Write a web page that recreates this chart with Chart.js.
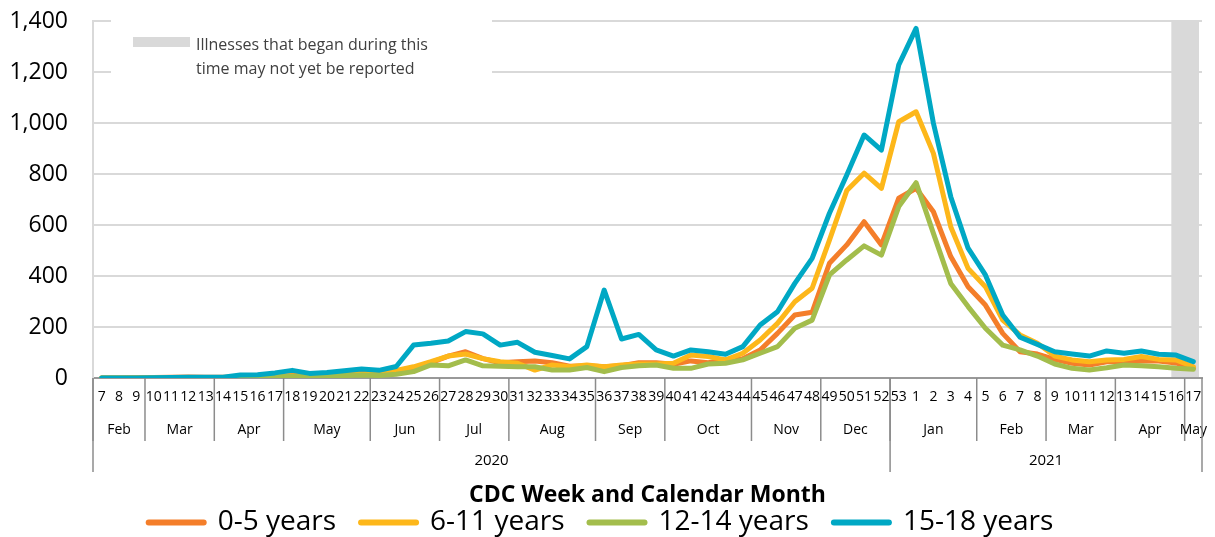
<!DOCTYPE html>
<html>
<head>
<meta charset="utf-8">
<script src="https://cdn.jsdelivr.net/npm/chart.js@4.4.1/dist/chart.umd.min.js"></script>
<style>
  html, body { margin: 0; padding: 0; background: #fff; }
</style>
</head>
<body>
<canvas id="chart" width="1215" height="537"></canvas>
<script>
// CDC weeks, 2020 wk 7 .. 2021 wk 17
const weeks = [
  '7','8','9','10','11','12','13','14','15','16','17','18','19','20','21','22','23','24',
  '25','26','27','28','29','30','31','32','33','34','35','36','37','38','39','40','41','42',
  '43','44','45','46','47','48','49','50','51','52','53',
  '1','2','3','4','5','6','7','8','9','10','11','12','13','14','15','16','17'
];

const monthLabels = ['Feb','Mar','Apr','May','Jun','Jul','Aug','Sep','Oct','Nov','Dec','Jan','Feb','Mar','Apr','May'];
const monthSpans = [3, 4, 4, 5, 4, 4, 5, 4, 5, 4, 4, 5, 4, 4, 4, 1];
const yearLabels = ['2020', '2021'];
const yearSpans = [46, 18];

// weeks whose illnesses may not be reported yet (index into weeks)
const pendingFrom = 62;
const noteLines = ['Illnesses that began during this', 'time may not yet be reported'];

const age0to5 = [
  0, 0, 1, 2, 3, 4, 3, 3, 4, 5, 6, 10, 9, 12, 15, 18, 20, 28,
  38, 60, 86, 103, 76, 60, 64, 67, 60, 46, 48, 44, 48, 60, 60, 54, 67, 60, 71, 76, 110, 175, 247, 258,
  450, 522, 613, 522, 705,
  744, 652, 476, 358, 286, 175, 103, 94, 73, 58, 51, 64, 64, 67, 67, 59, 38
];
const age6to11 = [
  0, 0, 0, 1, 1, 2, 2, 2, 3, 4, 5, 8, 7, 10, 12, 15, 18, 30,
  44, 64, 86, 94, 76, 64, 58, 31, 51, 44, 51, 44, 51, 55, 55, 58, 90, 84, 71, 97, 149, 214, 299, 352,
  541, 735, 803, 744, 1005,
  1044, 881, 593, 430, 358, 227, 169, 136, 86, 71, 64, 71, 73, 84, 73, 71, 44
];
const age12to14 = [
  0, 0, 0, 0, 0, 1, 1, 1, 2, 3, 4, 7, 5, 8, 10, 12, 10, 15,
  25, 51, 48, 71, 48, 46, 44, 44, 31, 31, 41, 25, 41, 48, 51, 38, 38, 55, 58, 71, 97, 123, 195, 227,
  404, 463, 518, 482, 672,
  766, 567, 371, 280, 195, 129, 110, 86, 55, 38, 31, 40, 51, 48, 44, 38, 34
];
const age15to18 = [
  0, 0, 0, 1, 2, 3, 3, 3, 12, 13, 20, 30, 18, 22, 28, 35, 30, 45,
  129, 136, 145, 182, 173, 129, 140, 101, 88, 75, 123, 345, 153, 171, 110, 86, 110, 103, 93, 123, 208, 260, 371, 469,
  646, 796, 953, 894, 1228,
  1371, 999, 711, 509, 404, 247, 160, 132, 103, 94, 86, 106, 97, 106, 93, 90, 64
];

const FONT = 'Open Sans';

function series(label, data, color, order) {
  return {
    label, data, order,
    borderColor: color,
    backgroundColor: color,
    borderWidth: 5,
    borderJoinStyle: 'round',
    borderCapStyle: 'round',
    pointRadius: 0,
    tension: 0,
    fill: false
  };
}

// grey "not yet reported" band, note box, month / year rows
const extrasPlugin = {
  id: 'cdcExtras',
  beforeDatasetsDraw(chart) {
    const { ctx, chartArea: a, scales: { x } } = chart;
    const step = x.getPixelForValue(1) - x.getPixelForValue(0);
    ctx.save();
    ctx.fillStyle = '#d9d9d9';
    const bx = x.getPixelForValue(pendingFrom) - step * 0.27;
    ctx.fillRect(bx, a.top, a.right - 3 - bx, a.bottom - a.top - 1);

    // note box (hides the grid behind it)
    ctx.fillStyle = '#fff';
    ctx.fillRect(a.left + 18, a.top - 6, 381, 62);
    ctx.fillStyle = '#d9d9d9';
    ctx.fillRect(a.left + 40, a.top + 16, 57, 10);
    ctx.fillStyle = '#404040';
    ctx.font = '16px "' + FONT + '"';
    ctx.textBaseline = 'middle';
    ctx.textAlign = 'left';
    ctx.fillText(noteLines[0], a.left + 103, a.top + 24);
    ctx.fillText(noteLines[1], a.left + 103, a.top + 48);
    ctx.restore();
  },
  afterDraw(chart) {
    const { ctx, chartArea: a, scales: { x } } = chart;
    const step = x.getPixelForValue(1) - x.getPixelForValue(0);
    const edge = i => x.getPixelForValue(i) - step / 2;
    const vline = (px, len) => {
      ctx.beginPath();
      ctx.moveTo(px, a.bottom);
      ctx.lineTo(px, a.bottom + len);
      ctx.stroke();
    };
    ctx.save();
    ctx.strokeStyle = '#8c8c8c';
    ctx.lineWidth = 1.5;
    ctx.fillStyle = '#000';
    ctx.textAlign = 'center';
    ctx.textBaseline = 'middle';

    ctx.font = '14px "' + FONT + '"';
    let i = 0;
    monthLabels.forEach((m, k) => {
      const l = edge(i), r = edge(i + monthSpans[k]);
      vline(l, 63);
      ctx.fillText(m, (l + r) / 2, a.bottom + 52);
      i += monthSpans[k];
    });

    ctx.font = '15px "' + FONT + '"';
    i = 0;
    yearLabels.forEach((y, k) => {
      const l = edge(i), r = edge(i + yearSpans[k]);
      vline(l, 94);
      ctx.fillText(y, (l + r) / 2, a.bottom + 83);
      i += yearSpans[k];
    });
    vline(edge(i), 94);
    ctx.restore();
  }
};

new Chart(document.getElementById('chart'), {
  type: 'line',
  data: {
    labels: weeks,
    datasets: [
      series('0-5 years', age0to5, '#F47E2A', 3),
      series('6-11 years', age6to11, '#FDB71A', 2),
      series('12-14 years', age12to14, '#A3BD4C', 1),
      series('15-18 years', age15to18, '#00A8C4', 0)
    ]
  },
  options: {
    responsive: false,
    animation: false,
    events: [],
    layout: { padding: { top: 21, right: 13, left: 0, bottom: 0 } },
    plugins: {
      tooltip: { enabled: false },
      legend: {
        position: 'bottom',
        maxHeight: 53.5,
        labels: {
          usePointStyle: true,
          pointStyle: 'line',
          pointStyleWidth: 55,
          padding: 25,
          color: '#000',
          font: { family: FONT, size: 28 },
          sort: (a, b) => a.datasetIndex - b.datasetIndex,
          generateLabels(chart) {
            return Chart.defaults.plugins.legend.labels.generateLabels(chart)
              .map(l => ({ ...l, lineCap: 'round', lineWidth: 6 }));
          }
        }
      }
    },
    scales: {
      x: {
        offset: true,
        ticks: {
          autoSkip: false, maxRotation: 0, minRotation: 0, padding: 11,
          color: '#000', font: { family: FONT, size: 14 }
        },
        grid: { display: false, drawTicks: false, offset: true },
        border: { color: '#999', width: 2 },
        title: {
          display: true,
          text: 'CDC Week and Calendar Month',
          color: '#000',
          font: { family: FONT, size: 23, weight: 'bold' },
          padding: { top: 0, bottom: -26 }
        },
        afterFit(s) { s.height = 105.5; }
      },
      y: {
        min: 0, max: 1400,
        ticks: {
          stepSize: 200, padding: 0, color: '#000',
          font: { family: FONT, size: 23 },
          callback: v => v.toLocaleString('en-US')
        },
        grid: { color: '#d9d9d9', lineWidth: 2, drawTicks: true, tickLength: 25, tickColor: 'rgba(0,0,0,0)' },
        border: { color: '#d9d9d9', width: 2 },
        afterFit(s) { s.width = 93; }
      }
    }
  },
  plugins: [extrasPlugin]
});
</script>
</body>
</html>
